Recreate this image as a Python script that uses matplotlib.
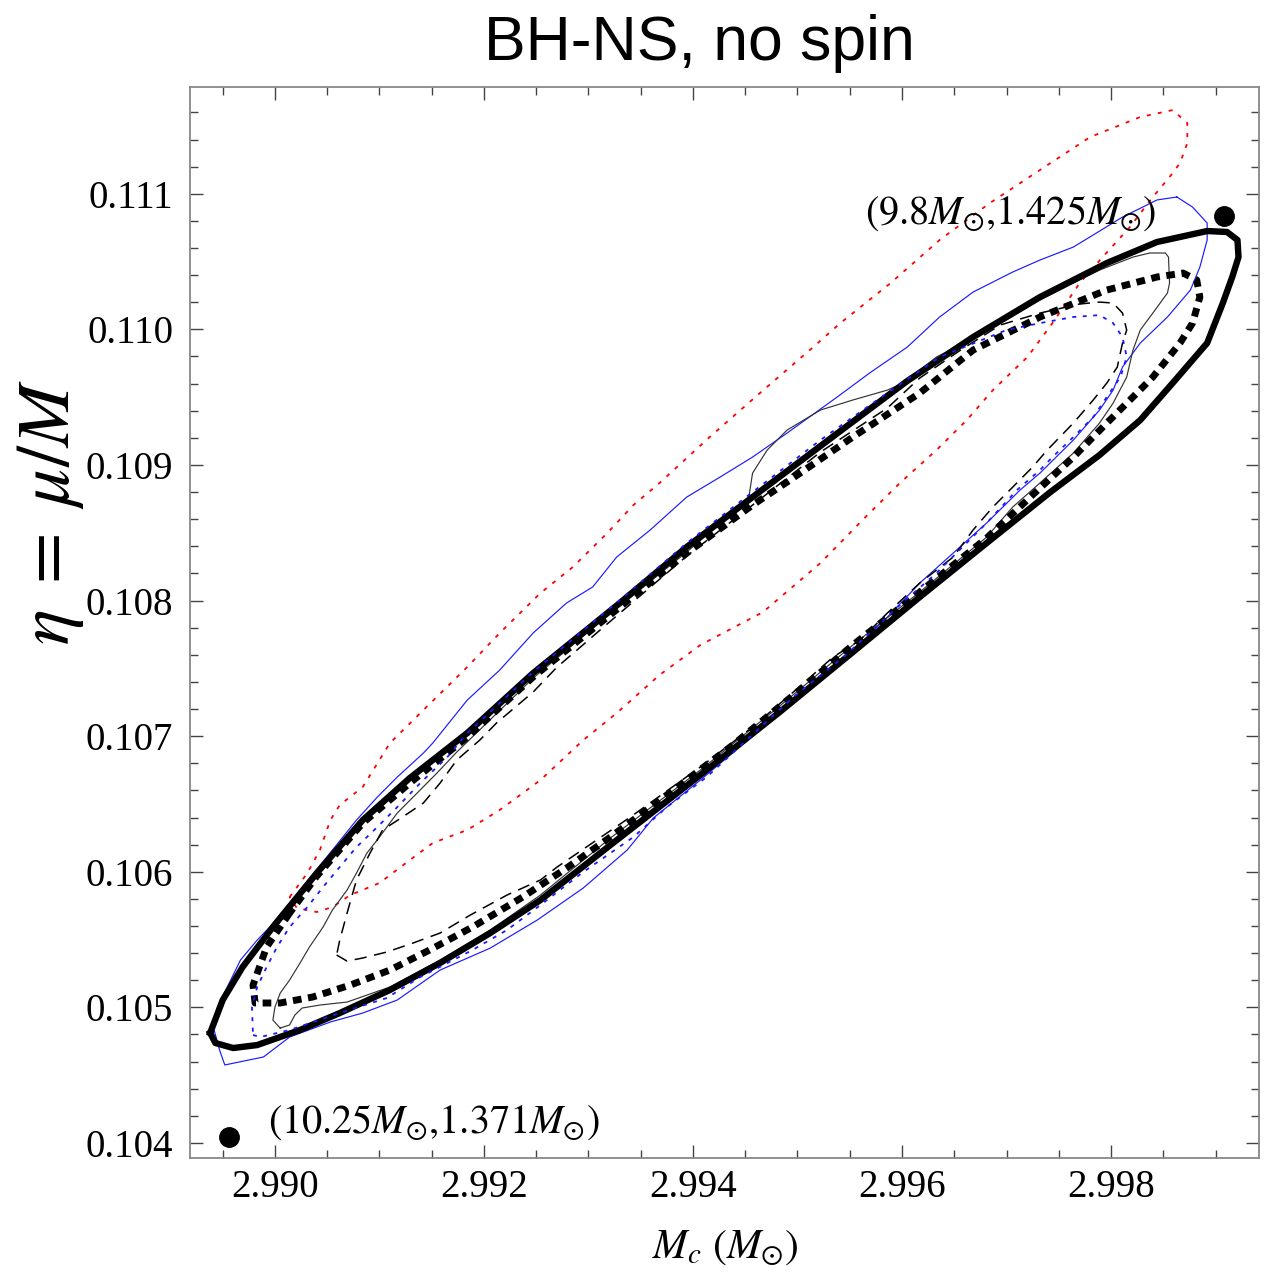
import numpy as np
import matplotlib
matplotlib.use('Agg')
import matplotlib.pyplot as plt
from matplotlib.ticker import MultipleLocator, FormatStrFormatter

plt.rcParams['mathtext.fontset'] = 'stix'
plt.rcParams['font.family'] = ['Liberation Serif', 'DejaVu Serif']

# ---- data (Mc in solar masses, eta) ----
# thick solid black contour
A_mc = [2.98938, 2.98943, 2.98960, 2.98983, 2.99024, 2.99062, 2.99110, 2.99158, 2.99206, 2.99254,
        2.99321, 2.99407, 2.99483, 2.99553, 2.99617, 2.99681, 2.99742, 2.99789, 2.99828, 2.99859,
        2.99892, 2.99907, 2.99916, 2.99922, 2.99921, 2.99911, 2.99892, 2.99844, 2.99796, 2.99732,
        2.99668, 2.99605, 2.99541, 2.99457, 2.99394, 2.99330, 2.99247, 2.99184, 2.99129, 2.99084,
        2.99040, 2.98998, 2.98969, 2.98950]
A_eta = [0.104811, 0.104737, 0.104700, 0.104722, 0.104833, 0.104958, 0.105128, 0.105327, 0.105548, 0.105791,
         0.106197, 0.106713, 0.107178, 0.107620, 0.108026, 0.108424, 0.108800, 0.109073, 0.109331, 0.109604,
         0.109899, 0.110194, 0.110386, 0.110533, 0.110659, 0.110718, 0.110725, 0.110644, 0.110489, 0.110238,
         0.109943, 0.109619, 0.109250, 0.108763, 0.108395, 0.107982, 0.107465, 0.107023, 0.106691, 0.106381,
         0.105990, 0.105592, 0.105297, 0.105054]

# thick dotted black contour
B_mc = [2.99014, 2.98992, 2.98979, 2.98981, 2.99005, 2.99036, 2.99072, 2.99110, 2.99148, 2.99189,
        2.99237, 2.99279, 2.99321, 2.99375, 2.99438, 2.99502, 2.99553, 2.99617, 2.99681, 2.99732,
        2.99764, 2.99796, 2.99821, 2.99840, 2.99866, 2.99878, 2.99885, 2.99882, 2.99869, 2.99844,
        2.99796, 2.99732, 2.99668, 2.99617, 2.99553, 2.99490, 2.99457, 2.99394, 2.99330, 2.99247,
        2.99184, 2.99129, 2.99084, 2.99040]
B_eta = [0.105695, 0.105445, 0.105164, 0.105032, 0.105032, 0.105076, 0.105164, 0.105275, 0.105423, 0.105592,
         0.105813, 0.106027, 0.106256, 0.106566, 0.106934, 0.107340, 0.107672, 0.108063, 0.108461, 0.108830,
         0.109058, 0.109309, 0.109501, 0.109648, 0.109899, 0.110046, 0.110238, 0.110364, 0.110415, 0.110386,
         0.110290, 0.110091, 0.109847, 0.109530, 0.109206, 0.108874, 0.108704, 0.108350, 0.107952, 0.107436,
         0.106993, 0.106654, 0.106359, 0.105968]

# thin blue solid contour
C_mc = [2.99863, 2.99878, 2.99892, 2.99892, 2.99885, 2.99876, 2.99854, 2.99828, 2.99811, 2.99802,
        2.99789, 2.99764, 2.99732, 2.99713, 2.99681, 2.99649, 2.99617, 2.99586, 2.99547, 2.99502,
        2.99464, 2.99407, 2.99362, 2.99337, 2.99295, 2.99251, 2.99206, 2.99158, 2.99117, 2.99084,
        2.99053, 2.99014, 2.98989, 2.98952, 2.98947, 2.98941, 2.98945, 2.98967, 2.98983, 2.98995,
        2.99024, 2.99055, 2.99078, 2.99098, 2.99117, 2.99142, 2.99151, 2.99184, 2.99215, 2.99247,
        2.99279, 2.99304, 2.99327, 2.99359, 2.99394, 2.99426, 2.99457, 2.99490, 2.99538, 2.99569,
        2.99605, 2.99636, 2.99668, 2.99706, 2.99732, 2.99764, 2.99811, 2.99844]
C_eta = [0.110976, 0.110902, 0.110784, 0.110659, 0.110459, 0.110290, 0.110091, 0.109899, 0.109722, 0.109552,
         0.109405, 0.109184, 0.108940, 0.108815, 0.108572, 0.108350, 0.108129, 0.107878, 0.107583, 0.107288,
         0.107045, 0.106676, 0.106396, 0.106160, 0.105880, 0.105644, 0.105437, 0.105275, 0.105054, 0.104958,
         0.104892, 0.104781, 0.104634, 0.104575, 0.104685, 0.104855, 0.105002, 0.105349, 0.105496, 0.105592,
         0.105865, 0.106160, 0.106381, 0.106551, 0.106698, 0.106875, 0.106949, 0.107266, 0.107487, 0.107760,
         0.107982, 0.108100, 0.108321, 0.108520, 0.108763, 0.108911, 0.109058, 0.109235, 0.109501, 0.109678,
         0.109869, 0.110091, 0.110275, 0.110423, 0.110511, 0.110607, 0.110828, 0.110954]

# thin blue dotted contour
D_mc = [2.98979, 2.98986, 2.99014, 2.99062, 2.99107, 2.99139, 2.99189, 2.99222, 2.99254, 2.99295,
        2.99343, 2.99375, 2.99413, 2.99496, 2.99544, 2.99598, 2.99633, 2.99681, 2.99710, 2.99732,
        2.99744, 2.99764, 2.99783, 2.99796, 2.99809, 2.99815, 2.99811, 2.99802, 2.99789, 2.99764,
        2.99732, 2.99700, 2.99636, 2.99572, 2.99522, 2.99457, 2.99394, 2.99330, 2.99247, 2.99184,
        2.99165, 2.99139, 2.99117, 2.99098, 2.99078, 2.99062, 2.99046, 2.99031, 2.99014, 2.99002,
        2.98992, 2.98983, 2.98978]
D_eta = [0.104796, 0.104781, 0.104833, 0.104958, 0.105069, 0.105223, 0.105423, 0.105570, 0.105754, 0.105998,
         0.106256, 0.106477, 0.106698, 0.107288, 0.107583, 0.107967, 0.108203, 0.108572, 0.108815, 0.108962,
         0.109058, 0.109206, 0.109353, 0.109501, 0.109648, 0.109796, 0.109943, 0.110046, 0.110105, 0.110091,
         0.110046, 0.109995, 0.109796, 0.109456, 0.109184, 0.108800, 0.108424, 0.108004, 0.107473, 0.107023,
         0.106846, 0.106654, 0.106477, 0.106330, 0.106182, 0.106035, 0.105887, 0.105740, 0.105592, 0.105445,
         0.105297, 0.105150, 0.105002]

# thin black dashed contour
E_mc = [2.99059, 2.99069, 2.99084, 2.99107, 2.99132, 2.99158, 2.99187, 2.99222, 2.99254, 2.99270,
        2.99340, 2.99407, 2.99457, 2.99496, 2.99534, 2.99560, 2.99586, 2.99617, 2.99649, 2.99668,
        2.99687, 2.99706, 2.99725, 2.99739, 2.99764, 2.99783, 2.99796, 2.99806, 2.99811, 2.99815,
        2.99811, 2.99802, 2.99789, 2.99770, 2.99732, 2.99694, 2.99656, 2.99617, 2.99586, 2.99522,
        2.99457, 2.99394, 2.99311, 2.99289, 2.99270, 2.99247, 2.99212, 2.99196, 2.99174, 2.99158,
        2.99142, 2.99122, 2.99103, 2.99091, 2.99078, 2.99069, 2.99062]
E_eta = [0.105386, 0.105341, 0.105364, 0.105408, 0.105474, 0.105548, 0.105681, 0.105828, 0.105939, 0.106035,
         0.106403, 0.106772, 0.107067, 0.107325, 0.107583, 0.107709, 0.107908, 0.108129, 0.108321, 0.108520,
         0.108690, 0.108837, 0.108985, 0.109110, 0.109309, 0.109479, 0.109604, 0.109722, 0.109899, 0.109995,
         0.110120, 0.110194, 0.110201, 0.110187, 0.110120, 0.110032, 0.109847, 0.109641, 0.109420, 0.109095,
         0.108704, 0.108328, 0.107782, 0.107635, 0.107510, 0.107325, 0.107097, 0.106971, 0.106824, 0.106654,
         0.106507, 0.106403, 0.106308, 0.106138, 0.105939, 0.105695, 0.105496]

# thin black solid contour
F_mc = [2.99005, 2.98998, 2.99000, 2.99005, 2.99014, 2.99024, 2.99033, 2.99046, 2.99055, 2.99069,
        2.99078, 2.99088, 2.99100, 2.99117, 2.99136, 2.99155, 2.99174, 2.99247, 2.99311, 2.99394,
        2.99453, 2.99457, 2.99471, 2.99490, 2.99522, 2.99553, 2.99586, 2.99601, 2.99633, 2.99665,
        2.99694, 2.99732, 2.99764, 2.99789, 2.99821, 2.99837, 2.99852, 2.99855, 2.99856, 2.99854,
        2.99840, 2.99828, 2.99821, 2.99815, 2.99802, 2.99789, 2.99764, 2.99732, 2.99706, 2.99681,
        2.99617, 2.99553, 2.99483, 2.99407, 2.99321, 2.99254, 2.99206, 2.99158, 2.99110, 2.99069,
        2.99043, 2.99026, 2.99019, 2.99014]
F_eta = [0.104847, 0.104906, 0.105002, 0.105105, 0.105201, 0.105327, 0.105445, 0.105592, 0.105718, 0.105865,
         0.105990, 0.106138, 0.106256, 0.106433, 0.106580, 0.106728, 0.106883, 0.107428, 0.107841, 0.108358,
         0.108741, 0.108940, 0.109110, 0.109257, 0.109405, 0.109479, 0.109552, 0.109604, 0.109796, 0.109921,
         0.110046, 0.110216, 0.110341, 0.110437, 0.110533, 0.110563, 0.110563, 0.110533, 0.110341, 0.110268,
         0.110120, 0.109995, 0.109847, 0.109648, 0.109456, 0.109309, 0.109088, 0.108867, 0.108690, 0.108468,
         0.108063, 0.107672, 0.107222, 0.106750, 0.106249, 0.105828, 0.105570, 0.105349, 0.105150, 0.105039,
         0.105017, 0.104995, 0.104943, 0.104870]

# red dotted contour
G_mc = [2.99014, 2.99031, 2.99043, 2.99053, 2.99062, 2.99084, 2.99110, 2.99145, 2.99184, 2.99215,
        2.99254, 2.99285, 2.99318, 2.99343, 2.99368, 2.99416, 2.99464, 2.99515, 2.99541, 2.99589,
        2.99636, 2.99684, 2.99732, 2.99780, 2.99828, 2.99859, 2.99873, 2.99873, 2.99866, 2.99856,
        2.99840, 2.99818, 2.99792, 2.99770, 2.99744, 2.99720, 2.99687, 2.99662, 2.99633, 2.99598,
        2.99567, 2.99522, 2.99467, 2.99407, 2.99368, 2.99327, 2.99295, 2.99254, 2.99215, 2.99184,
        2.99151, 2.99129, 2.99100, 2.99072, 2.99055, 2.99040, 2.99021]
G_eta = [0.105813, 0.105990, 0.106160, 0.106381, 0.106492, 0.106625, 0.106949, 0.107215, 0.107510, 0.107760,
         0.108055, 0.108247, 0.108498, 0.108704, 0.108867, 0.109206, 0.109530, 0.109869, 0.110046, 0.110341,
         0.110659, 0.110931, 0.111175, 0.111418, 0.111566, 0.111617, 0.111521, 0.111374, 0.111226, 0.111123,
         0.110976, 0.110754, 0.110533, 0.110341, 0.110046, 0.109796, 0.109552, 0.109331, 0.109110, 0.108867,
         0.108631, 0.108277, 0.107915, 0.107672, 0.107451, 0.107170, 0.106971, 0.106676, 0.106455, 0.106308,
         0.106212, 0.106086, 0.105917, 0.105828, 0.105740, 0.105703, 0.105732]

# marked injection points
pt_mc = [2.98956, 2.99908]
pt_eta = [0.104044, 0.110836]
pt_labels = [r'$(10.25M_{\odot}{,}1.371M_{\odot})$', r'$(9.8M_{\odot}{,}1.425M_{\odot})$']
label_mc = [2.98993, 2.99565]
label_eta = [0.104080, 0.110782]

x_ticks = [2.990, 2.992, 2.994, 2.996, 2.998]
y_ticks = [0.104, 0.105, 0.106, 0.107, 0.108, 0.109, 0.110, 0.111]


def closed(a):
    a = np.asarray(a)
    return np.append(a, a[0])


W, H = 1264, 1273
fig = plt.figure(figsize=(W / 100, H / 100), dpi=100)
ax = fig.add_axes([190 / W, 1 - 1158 / H, (1259 - 190) / W, (1158 - 87.3) / H])

ax.plot(closed(G_mc), closed(G_eta), color='#ff0000', lw=1.3, dashes=(2.2, 4.0), zorder=2)
ax.plot(closed(C_mc), closed(C_eta), color='#1a1aff', lw=0.85, zorder=2)
ax.plot(closed(F_mc), closed(F_eta), color='#333333', lw=0.85, zorder=2)
ax.plot(closed(E_mc), closed(E_eta), color='black', lw=1.1, dashes=(8, 5), zorder=2)
ax.plot(closed(A_mc), closed(A_eta), color='black', lw=4.6, solid_joinstyle='round', zorder=3)
ax.plot(closed(B_mc), closed(B_eta), color='black', lw=5.0, dashes=(1.25, 0.95),
        dash_capstyle='butt', zorder=3)
ax.plot(closed(D_mc), closed(D_eta), color='#1a1aff', lw=1.3, dashes=(2.2, 3.6), zorder=4)

ax.plot(pt_mc, pt_eta, 'o', color='black', ms=14, zorder=5)
for xm, ym, s in zip(label_mc, label_eta, pt_labels):
    ax.text(xm, ym, s, fontsize=29, ha='left', va='baseline', zorder=5)

ax.set_xlim(2.989187, 2.999416)
ax.set_ylim(0.103889, 0.111785)
ax.set_xticks(x_ticks)
ax.set_yticks(y_ticks)
ax.xaxis.set_minor_locator(MultipleLocator(0.0005))
ax.yaxis.set_minor_locator(MultipleLocator(0.0002))
ax.xaxis.set_major_formatter(FormatStrFormatter('%.3f'))
ax.yaxis.set_major_formatter(FormatStrFormatter('%.3f'))
ax.tick_params(which='both', direction='in', top=True, right=True, color='#444444', width=1.0)
ax.tick_params(which='major', length=9.5)
ax.tick_params(which='minor', length=5.8)
ax.tick_params(axis='x', labelsize=28, pad=8)
ax.tick_params(axis='y', labelsize=28, pad=12)
for sp in ax.spines.values():
    sp.set_color('#888888')
    sp.set_linewidth(1.3)

fig.text(699 / W, 1 - 60 / H, 'BH-NS, no spin', ha='center', va='baseline',
         fontsize=45, family=['Liberation Sans', 'DejaVu Sans'])
fig.text(50 / W, 1 - 512 / H, r'$\eta\;=\;\mu/M$', rotation=90, ha='center', va='center', fontsize=54)
fig.text(725 / W, 1 - 1258 / H, r'$M_c\ (M_{\odot})$', ha='center', va='baseline', fontsize=30)

fig.savefig('out.png', dpi=100)
